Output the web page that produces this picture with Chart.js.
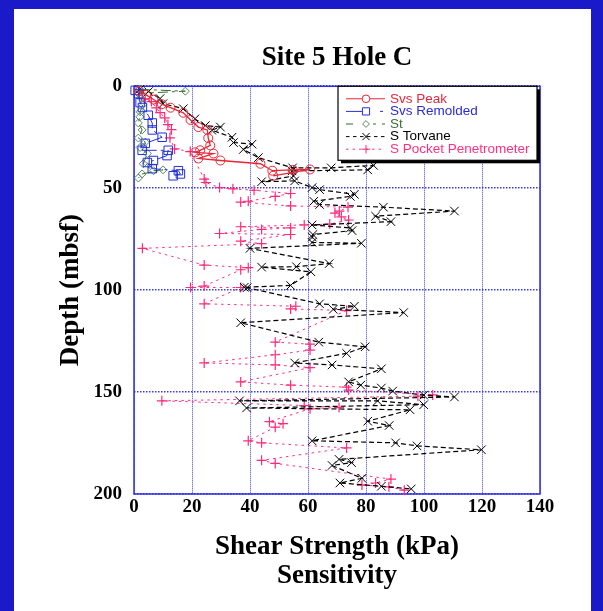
<!DOCTYPE html>
<html lang="en">
<head>
<meta charset="UTF-8">
<title>Site 5 Hole C</title>
<script src="https://cdn.jsdelivr.net/npm/chart.js"></script>
<style>
    html, body { margin: 0; padding: 0; }
    body { width: 603px; height: 611px; background: #1a1ac8; position: relative; overflow: hidden; }
    .panel { position: absolute; left: 14px; top: 9px; width: 577px; height: 602px; background: #fff; }
    .chart-box { position: absolute; left: 0; top: 0; width: 603px; height: 611px; }
</style>
</head>
<body>
<div class="panel"></div>
<div class="chart-box"><canvas id="siteChart" width="603" height="611"></canvas></div>
<script>
// axis ticks
const xTicks = [0, 20, 40, 60, 80, 100, 120, 140];
const yTicks = [0, 50, 100, 150, 200];

// Svs Peak (kPa / depth mbsf)
const peakKpa   = [1.6, 4.2, 6.7, 9.6, 12.6, 17, 19.5, 22.2, 25.3, 25.6, 26.3, 22.8, 21.1, 27.4, 22.2, 29.8, 43.6, 47.7, 54.7, 60.7, 48];
const peakDepth = [2.3, 4.2, 6.5, 8.8, 10.5, 13, 16.5, 20, 21.4, 25.4, 29, 31.4, 32.4, 33, 35.4, 36.4, 38, 41.4, 41, 40.8, 43.9];

// Svs Remolded
const remKpa   = [0.4, 1.6, 2.1, 2.9, 4.9, 6.3, 6.3, 9.7, 3.9, 2.8, 11.8, 11.4, 6.7, 4.6, 6.3, 15.3, 16, 13.5];
const remDepth = [2, 3.6, 8, 10.4, 14.2, 18, 21.4, 25, 28, 31.4, 31.4, 34, 36.4, 37.4, 40.4, 41.4, 43, 43.9];

// St (sensitivity)
const stVal   = [2, 17.7, 1.5, 2.5, 3, 2.1, 2, 1.5, 2.8, 1.5, 3.9, 2.1, 4.6, 3.2, 6.7, 10, 2.8, 1.5];
const stDepth = [1.5, 2.4, 3.5, 6, 9, 12.5, 15, 18, 21.4, 25.4, 27.4, 30, 33, 38, 41.4, 41, 43, 45];

// S Torvane
const torKpa = [2, 5, 9, 10, 17, 21, 24.6, 29.8, 26.8, 33.8, 34.3, 40.7, 37.7, 42.9, 54.7, 68, 82.6, 80.6, 54.5, 55,
    44, 55.4, 61.4, 64, 76, 74.6, 62, 64, 86, 110.5, 83.3, 88.6, 61.4, 74.6, 75.2, 61.7, 61.5, 61.4, 78.4, 40,
    67.3, 56, 44, 61, 54, 38, 39, 64, 76, 68.7, 93, 36.8, 63.7, 79.7, 73.3, 55.4, 68.3, 85.3, 74, 78.2,
    85.3, 89.2, 99.9, 110.5, 36.4, 84, 99.9, 38.8, 95.2, 80.6, 88, 61.4, 90.2, 97.6, 119.8, 70.7, 75, 68.3, 78.6, 71,
    85.3, 95.6];
const torDepth = [1.5, 2.6, 6, 8.5, 11, 16, 19.3, 20, 21.5, 25, 27.6, 28.4, 31, 35, 40, 40, 38.8, 41, 41.5, 44,
    46.8, 46.4, 49.7, 50.7, 53, 54, 56.4, 58, 59.3, 61.2, 63.7, 66.4, 68, 69.5, 70.8, 72.7, 74, 76.6, 77, 79.5,
    87, 88.5, 88.7, 91, 97.7, 98.6, 98.8, 106.7, 107.9, 109.4, 111, 116, 125.5, 127.8, 131, 135.7, 136.7, 138.6, 145, 146.6,
    148, 149.5, 151.5, 152.4, 154.3, 154.3, 156.2, 157.8, 158.7, 164.3, 166.4, 173.9, 174.9, 176.4, 178.3, 183, 184.6, 186, 192.3, 194.6,
    196.2, 197.5];

// S Pocket Penetrometer
const ppKpa = [1.6, 3.9, 6, 7.7, 9, 10.6, 11.7, 12.9, 12.4, 14, 19.4, 24.2, 24.8, 29.5, 34.1, 41.4, 54, 48.7, 39.4, 36.8,
    54, 73.8, 70.8, 69.3, 71.5, 74, 67.5, 58.7, 36.8, 54, 44, 29.5, 54, 36.8, 44, 2.9, 24.2, 39.4, 36.8, 24.2,
    19.5, 36.8, 24.2, 55.8, 54, 73.3, 48.7, 60.7, 60.7, 48.7, 24.2, 48.7, 60.7, 36.8, 54, 73.3, 74, 103, 97.9, 9.6,
    58.7, 70.7, 60.7, 46.7, 51.4, 48.7, 39.4, 44, 73.3, 44, 48.7, 88.6, 83.3, 78.6, 87.9, 93.2];
const ppDepth = [2.7, 6.2, 7.5, 10.6, 12.9, 15.5, 18.8, 21.3, 25.3, 30.7, 32, 45.5, 47.2, 49.7, 50.3, 51, 52.6, 54, 56.4, 56.8,
    58.7, 59.3, 61.2, 62.2, 64.1, 65.6, 67.6, 68, 68.9, 69.5, 70.2, 72.2, 72.7, 76, 77.2, 79.5, 87.7, 89, 90, 98,
    98.7, 98.7, 106.7, 107.9, 109.2, 110, 125.5, 126.5, 129.4, 131.7, 135.7, 136.7, 138, 145, 146.6, 147.6, 149, 151.4, 152, 154.3,
    156.6, 157.6, 158.2, 164.5, 165.5, 167.2, 173.9, 174.9, 177.4, 183.5, 185, 192.7, 194.6, 195.6, 196.5, 198.1];

const serif = 'Liberation Serif, Times New Roman, serif';
const toPoints = (xs, ys) => xs.map((v, i) => ({x: v, y: ys[i]}));

// box plugins: blue frame round the plot, legend with shadow
const plotFrame = {
    id: 'plotFrame',
    beforeDatasetsDraw(chart) {
        const a = chart.chartArea, ctx = chart.ctx;
        ctx.save();
        ctx.strokeStyle = '#2f2fe0';
        ctx.lineWidth = 1.5;
        ctx.strokeRect(a.left, a.top, a.right - a.left, a.bottom - a.top);
        ctx.restore();
    }
};

const legendBox = {
    id: 'legendBox',
    afterDatasetsDraw(chart) {
        const ctx = chart.ctx, a = chart.chartArea;
        const w = 199, h = 74;
        const x = a.right - w - 3, y = a.top;
        ctx.save();
        ctx.fillStyle = '#000';
        ctx.fillRect(x + 3, y + 3, w, h);
        ctx.fillStyle = '#fff';
        ctx.fillRect(x, y, w, h);
        ctx.strokeStyle = '#000';
        ctx.lineWidth = 1.2;
        ctx.strokeRect(x, y, w, h);
        chart.data.datasets.forEach((ds, i) => {
            const ry = y + 12.5 + i * 12.6;
            ctx.strokeStyle = ds.borderColor;
            ctx.lineWidth = 1;
            ctx.setLineDash(ds.legendDash || []);
            ctx.beginPath();
            ctx.moveTo(x + 8, ry);
            ctx.lineTo(x + 47, ry);
            ctx.stroke();
            ctx.setLineDash([]);
            ctx.strokeStyle = ds.pointBorderColor;
            ctx.fillStyle = '#fff';
            Chart.helpers.drawPoint(ctx, {pointStyle: ds.pointStyle, radius: ds.pointRadius * 0.85, borderWidth: 1, rotation: 0}, x + 28, ry);
            ctx.fillStyle = ds.textColor;
            ctx.font = '13.5px "Liberation Sans", Arial, sans-serif';
            ctx.textBaseline = 'middle';
            ctx.fillText(ds.label, x + 52, ry);
        });
        ctx.restore();
    }
};

const ctx = document.getElementById('siteChart').getContext('2d');
new Chart(ctx, {
    type: 'scatter',
    data: {
        datasets: [{
            label: 'Svs Peak',
            data: toPoints(peakKpa, peakDepth),
            showLine: true,
            borderColor: '#ec2434',
            borderWidth: 1.3,
            pointStyle: 'circle',
            pointRadius: 4.5,
            pointBorderColor: '#ec2434',
            pointBackgroundColor: 'rgba(255,255,255,0)',
            pointBorderWidth: 1,
            textColor: '#e8283c',
            legendDash: []
        }, {
            label: 'Svs Remolded',
            data: toPoints(remKpa, remDepth),
            showLine: true,
            borderColor: '#2230d8',
            borderWidth: 1,
            borderDash: [16, 4, 3, 4],
            pointStyle: 'rect',
            pointRadius: 6,
            pointBorderColor: '#2230d8',
            pointBackgroundColor: 'rgba(255,255,255,0)',
            pointBorderWidth: 1,
            textColor: '#2a2ad8',
            legendDash: [16, 18, 3, 4]
        }, {
            label: 'St',
            data: toPoints(stVal, stDepth),
            showLine: true,
            borderColor: '#2f6e30',
            borderWidth: 1,
            borderDash: [10, 4, 3, 4],
            pointStyle: 'rectRot',
            pointRadius: 4,
            pointBorderColor: '#5c8a5c',
            pointBackgroundColor: 'rgba(255,255,255,0)',
            pointBorderWidth: 1,
            textColor: '#3d6e3d',
            legendDash: [7, 20, 3, 6]
        }, {
            label: 'S Torvane',
            data: toPoints(torKpa, torDepth),
            showLine: true,
            borderColor: '#000',
            borderWidth: 1.2,
            borderDash: [5, 3],
            pointStyle: 'crossRot',
            pointRadius: 6,
            pointBorderColor: '#000',
            pointBorderWidth: 1,
            textColor: '#000',
            legendDash: [3.5, 3.5]
        }, {
            label: 'S Pocket Penetrometer',
            data: toPoints(ppKpa, ppDepth),
            showLine: true,
            borderColor: '#ff3080',
            borderWidth: 1,
            borderDash: [2.5, 4],
            pointStyle: 'cross',
            pointRadius: 5,
            pointBorderColor: '#ff2a7a',
            pointBorderWidth: 1.2,
            textColor: '#ff3080',
            legendDash: [2.5, 4]
        }]
    },
    options: {
        responsive: false,
        devicePixelRatio: 1,
        animation: false,
        clip: 8,
        layout: { padding: { left: 0, right: 63, top: 0, bottom: 0 } },
        plugins: {
            legend: { display: false },
            tooltip: { enabled: false },
            title: {
                display: true,
                text: 'Site 5 Hole C',
                fullSize: false,
                color: '#000',
                font: { family: serif, size: 27, weight: 'bold', lineHeight: 1.085 },
                padding: { top: 43, bottom: 14 }
            }
        },
        scales: {
            x: {
                type: 'linear',
                min: xTicks[0],
                max: xTicks[xTicks.length - 1],
                afterBuildTicks: s => { s.ticks = xTicks.map(v => ({value: v})); },
                afterFit: s => { s.height = 117; },
                grid: { color: '#3c3cdc', lineWidth: 1, drawTicks: false },
                border: { display: false, dash: [1, 1] },
                ticks: { padding: 2, color: '#000', font: { family: serif, size: 19, weight: 'bold' } },
                title: {
                    display: true,
                    text: ['Shear Strength (kPa)', 'Sensitivity'],
                    color: '#000',
                    font: { family: serif, size: 27, weight: 'bold', lineHeight: 1.085 },
                    padding: { top: 0, bottom: 20 }
                }
            },
            y: {
                type: 'linear',
                reverse: true,
                min: yTicks[0],
                max: yTicks[yTicks.length - 1],
                afterBuildTicks: s => { s.ticks = yTicks.map(v => ({value: v})); },
                afterFit: s => { s.width = 134; },
                grid: { color: '#3c3cdc', lineWidth: 1.6, drawTicks: false },
                border: { display: false, dash: [1.5, 1.5] },
                ticks: { padding: 12, color: '#000', font: { family: serif, size: 19, weight: 'bold' } },
                title: {
                    display: true,
                    text: 'Depth (mbsf)',
                    color: '#000',
                    font: { family: serif, size: 27, weight: 'bold', lineHeight: 1.085 },
                    padding: { top: 56, bottom: 0 }
                }
            }
        }
    },
    plugins: [plotFrame, legendBox]
});
</script>
</body>
</html>
